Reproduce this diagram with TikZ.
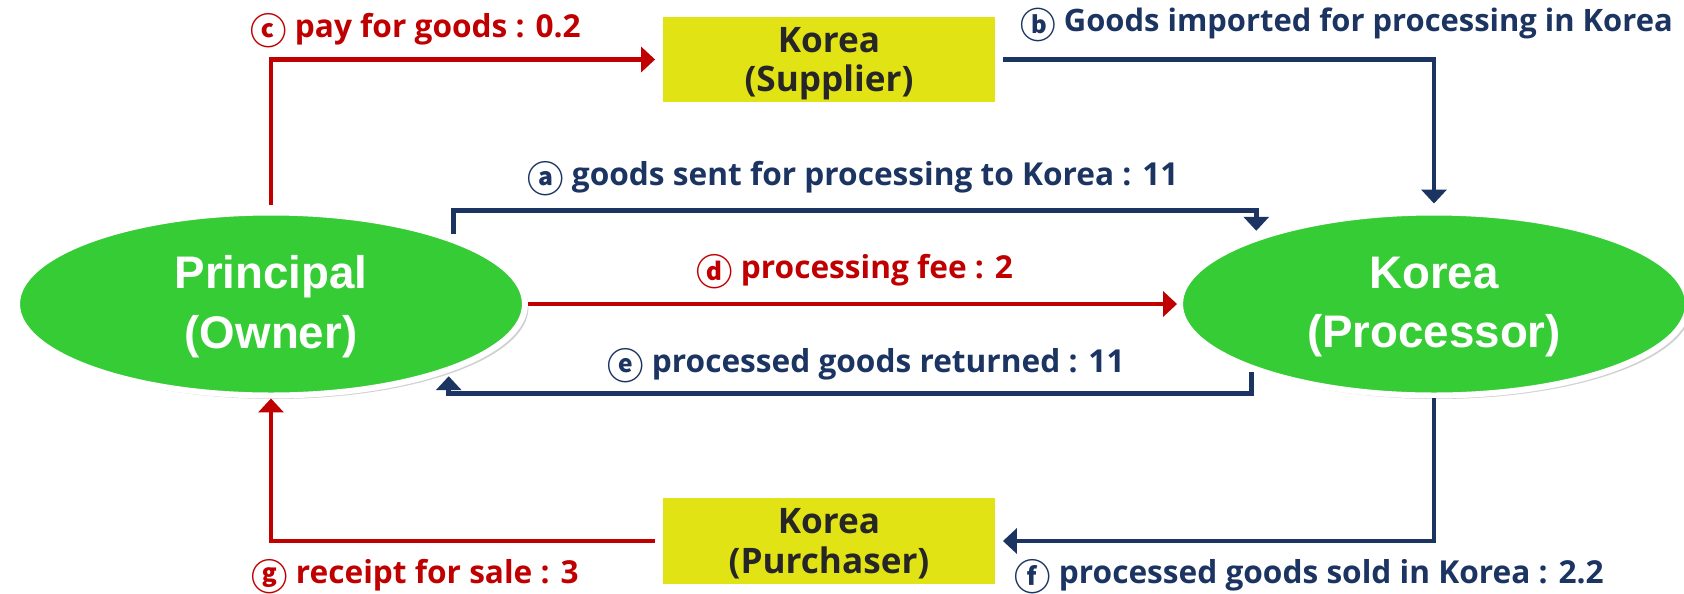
\documentclass[tikz,border=0pt]{standalone}
\usepackage{fontspec}
\setmainfont{Open Sans}[BoldFont={Open Sans Bold}]
\newfontfamily\arialfont{Liberation Sans}
\newfontfamily\circfont{Noto Sans CJK KR}[Scale=1.15]
\usetikzlibrary{arrows.meta,shadows,shapes.geometric}
\definecolor{myred}{HTML}{C00000}
\definecolor{mynavy}{HTML}{1B3461}
\definecolor{mygreen}{HTML}{35CC35}
\definecolor{myyellow}{HTML}{E2E314}
\definecolor{mydark}{HTML}{262626}
\newcommand{\cl}[1]{\raisebox{-4pt}{\circfont #1}}
\tikzset{
  procnode/.style={ellipse, fill=mygreen, draw=white, line width=3.4pt,
    minimum width=10.16cm, minimum height=3.66cm, inner sep=0pt, text depth=2pt,
    text=white, font=\arialfont\bfseries\fontsize{26pt}{34pt}\selectfont, align=center,
    drop shadow={shadow xshift=2pt, shadow yshift=-2pt, fill=black!40, opacity=0.45}},
  partybox/.style={rectangle, fill=myyellow, draw=white, line width=4.5pt,
    minimum width=6.8cm, minimum height=1.86cm, inner sep=0pt, text depth=0pt,
    text=mydark, font=\bfseries\fontsize{20pt}{22.7pt}\selectfont, align=center,
    drop shadow={shadow xshift=1.5pt, shadow yshift=-2pt, fill=black!40, opacity=0.45}},
  flow/.style={line width=2.8pt, -{Triangle[length=0.28cm, width=0.5cm]}},
  lbl/.style={font=\bfseries\fontsize{18pt}{21pt}\selectfont, anchor=base west, inner sep=0pt}
}
\begin{document}
\begin{tikzpicture}[x=0.02cm, y=-0.02cm]
\useasboundingbox (0,0) rectangle (1684,593);
\fill[white] (0,0) rectangle (1684,593);

\node[procnode] (P) at (271,304) {Principal\\(Owner)};
\node[procnode] (K) at (1434,304) {Korea\\(Processor)};
\node[partybox] (S) at (829,59.5) {Korea\\(Supplier)};
\node[partybox] (U) at (829,541) {Korea\\(Purchaser)};

\node[lbl, text=myred] (lc) at (250,37) {\cl{ⓒ} pay for goods : 0.2};
\node[lbl, text=mynavy, font=\bfseries\fontsize{17.6pt}{21pt}\selectfont] (lb) at (1020,31) {\cl{ⓑ} Goods imported for processing in Korea};
\node[lbl, text=mynavy] (la) at (527,185) {\cl{ⓐ} goods sent for processing to Korea : 11};
\node[lbl, text=myred] (ld) at (696,278) {\cl{ⓓ} processing fee : 2};
\node[lbl, text=mynavy] (le) at (607,372) {\cl{ⓔ} processed goods returned : 11};
\node[lbl, text=mynavy] (lf) at (1014,583) {\cl{ⓕ} processed goods sold in Korea : 2.2};
\node[lbl, text=myred] (lg) at (251,583) {\cl{ⓖ} receipt for sale : 3};

\draw[flow, myred, shorten <=0.09cm] (P.north) |- (S.west);
\draw[flow, mynavy, shorten >=0.12cm] (S.east) -| (K.north);
\draw[flow, mynavy, shorten <=0.08cm, shorten >=0.1cm] (P.20.4) -- ++(0,-27) -| (K.159.6);
\draw[flow, myred] (P.east) -- (K.west);
\draw[flow, mynavy, shorten <=0.04cm, shorten >=0.08cm] (K.200.4) -- ++(0,23) -| (P.339.6);
\draw[flow, mynavy] (K.south) |- (U.east);
\draw[flow, myred] (U.west) -| (P.south);
\end{tikzpicture}
\end{document}
